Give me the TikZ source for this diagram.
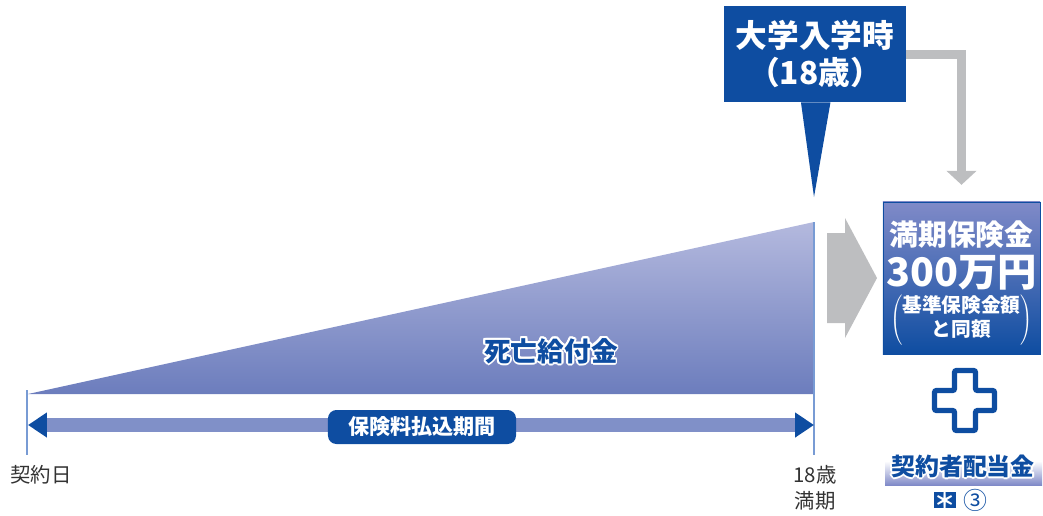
\documentclass[tikz,border=0pt]{standalone}
\usepackage{fontspec}
\usepackage{contour}
\usetikzlibrary{arrows.meta, positioning}
\setmainfont{Noto Sans CJK JP}
\definecolor{navy}{RGB}{14,77,161}
\definecolor{wedgetop}{RGB}{180,185,222}
\definecolor{wedgebot}{RGB}{108,125,189}
\definecolor{barblue}{RGB}{128,144,200}
\definecolor{tickblue}{RGB}{120,155,212}
\definecolor{arrowgray}{RGB}{189,190,192}
\definecolor{boxtop}{RGB}{128,138,200}
\definecolor{textgray}{RGB}{51,51,51}
\contourlength{1.3pt}
\newcommand{\pt}[1]{\fontsize{#1}{#1}\selectfont}

\begin{document}
\begin{tikzpicture}[x=0.025cm, y=-0.025cm,
		tick/.style={draw=tickblue, line width=1pt},
		period/.style={draw=barblue, line width=10pt,
			{Triangle[length=13.5pt, width=17pt, color=navy]}-{Triangle[length=13.5pt, width=17pt, color=navy]}},
		labelbox/.style={fill=navy, text=white, rounded corners=6pt, font=\bfseries\pt{15},
			minimum width=4.7cm, minimum height=0.85cm, inner sep=0pt},
		callout/.style={fill=navy, text=white, align=center, font=\bfseries\fontsize{22.5}{26}\selectfont,
			minimum width=4.55cm, minimum height=2.4cm, inner sep=0pt},
		payoutbox/.style={draw=navy, top color=boxtop, bottom color=navy,
			minimum width=3.925cm, minimum height=3.8cm, inner sep=0pt},
		inbox/.style={text=white, font=\bfseries, inner sep=0pt, align=center},
		greyarrow/.style={draw=arrowgray, line width=6.4pt,
			-{Triangle[length=10pt, width=21pt]}},
		plain/.style={text=textgray, font=\pt{14.5}, align=center, inner sep=0pt}
	]
		\useasboundingbox (0,0) rectangle (1043,515);
		% death benefit wedge
		\coordinate (contract) at (28,425);
		\coordinate (mature) at (814,425);
		\shade[top color=wedgetop, bottom color=wedgebot] (28,394) -- (814,222) -- (814,394) -- cycle;
		\draw[tick] (27,390) -- (27,455);
		\draw[tick] (814,222) -- (814,455);
		\draw[period] (contract) -- (mature);
		\node[labelbox] (premium) at (422,427) {保険料払込期間};
		\node[text=navy, font=\bfseries\pt{19}, inner sep=0pt] (death) at (551,352) {\contour{white}{死亡給付金}};
		\node[plain] (start) at (41,475) {契約日};
		\node[plain, font=\fontsize{14.5}{18.5}\selectfont] (end) at (815,488) {18歳\\満期};
		% entry callout
		\node[callout] (entry) at (815,54) {大学入学時\\（18歳）};
		\fill[navy] ([xshift=-10]entry.south) -- (814,197) -- ([xshift=11]entry.south) -- cycle;
		% maturity payout
		\fill[arrowgray] (827,233) -- (845,233) -- (845,218) -- (877,278) -- (845,338) -- (845,323) -- (827,323) -- cycle;
		\node[payoutbox] (payout) at (961.5,278) {};
		\draw[greyarrow, shorten >=12] (entry.east) -| (payout.north);
		\node[inbox, font=\bfseries\pt{20.5}] (mname) at (961.5,235) {満期保険金};
		\node[inbox, font=\bfseries\pt{28}] (mamount) at (961.5,273) {300万円};
		\node[inbox, font=\bfseries\fontsize{14}{17}\selectfont] (mnote) at (961.5,320)
			{$\left(\hbox{\begin{tabular}{@{}c@{}}基準保険金額\\と同額\end{tabular}}\right)$};
		% plus sign
		\draw[navy, line width=3.8pt, rounded corners=1.5pt, fill=white]
			(954.5,370.5) -- (975.5,370.5) -- (975.5,390.5) -- (994.5,390.5) -- (994.5,410.5)
			-- (975.5,410.5) -- (975.5,430.5) -- (954.5,430.5) -- (954.5,410.5) -- (934.5,410.5)
			-- (934.5,390.5) -- (954.5,390.5) -- cycle;
		% dividend
		\shade[top color=white, bottom color=boxtop] (885,461) rectangle (1042,485);
		\node[text=navy, font=\bfseries\pt{17}, inner sep=0pt] (bonus) at (963,467) {\contour{white}{契約者配当金}};
		\node[fill=navy, text=white, font=\bfseries\pt{15}, minimum size=0.37cm, inner sep=0pt] (mark) at (945,500) {＊};
		\node[text=navy, font=\pt{17}, inner sep=0pt] (three) at (975,500) {③};
	\end{tikzpicture}
\end{document}
